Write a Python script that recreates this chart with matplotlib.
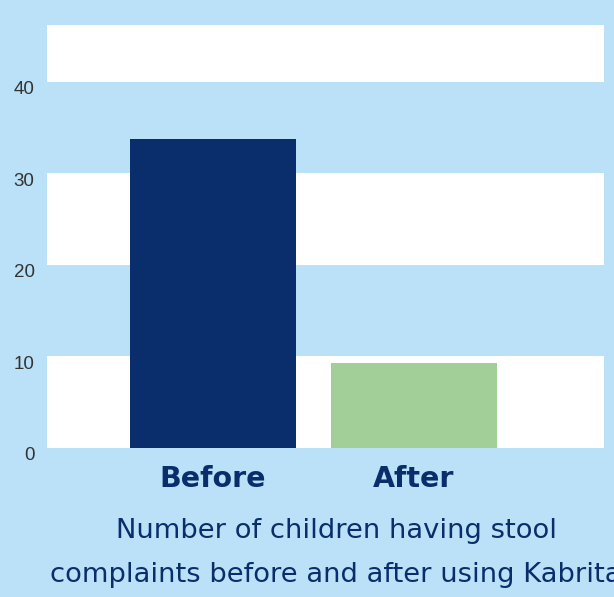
import matplotlib.pyplot as plt
import matplotlib.transforms as mtransforms

# data
labels = ["Before", "After"]
values = [33.7, 9.3]
bar_colors = ["#0a2e6b", "#a2cf98"]
yticks = [0, 10, 20, 30, 40]

bg = "#bae1f7"
navy = "#0a2e6b"

fig = plt.figure(figsize=(6.14, 5.97), dpi=100, facecolor=bg)
ax = fig.add_axes([47 / 614, 149 / 597, 557 / 614, 423 / 597])
ax.set_facecolor(bg)

# alternating white bands
for lo in range(0, 50, 20):
    ax.axhspan(lo, lo + 10, color="white", zorder=0, lw=0)

x = range(len(labels))
ax.bar(x, values, width=0.826, color=bar_colors, zorder=2)

ax.set_xlim(-0.826, 1.945)
ax.set_ylim(0, 46.2)
ax.set_yticks(yticks)
ax.set_xticks(list(x))
ax.set_xticklabels(labels, fontsize=20.5, fontweight="bold", color=navy,
                   family="DejaVu Sans")
ax.tick_params(axis="x", length=0, pad=12.5)
ax.tick_params(axis="y", length=0, pad=9, labelsize=13.5, labelcolor="#333333")
for t in ax.get_yticklabels():
    t.set_family("Liberation Sans")
    t.set_transform(t.get_transform() +
                    mtransforms.ScaledTranslation(0, -6 / 100, fig.dpi_scale_trans))
for s in ax.spines.values():
    s.set_visible(False)

# caption runs past the right edge in the original as well
fig.text(336 / 614, 1 - 518 / 597,
         "Number of children having stool\ncomplaints before and after using Kabrita",
         ha="center", va="top", fontsize=19.7, color=navy, linespacing=1.92,
         family="DejaVu Sans")

fig.savefig("out.png", dpi=100, facecolor=bg)
